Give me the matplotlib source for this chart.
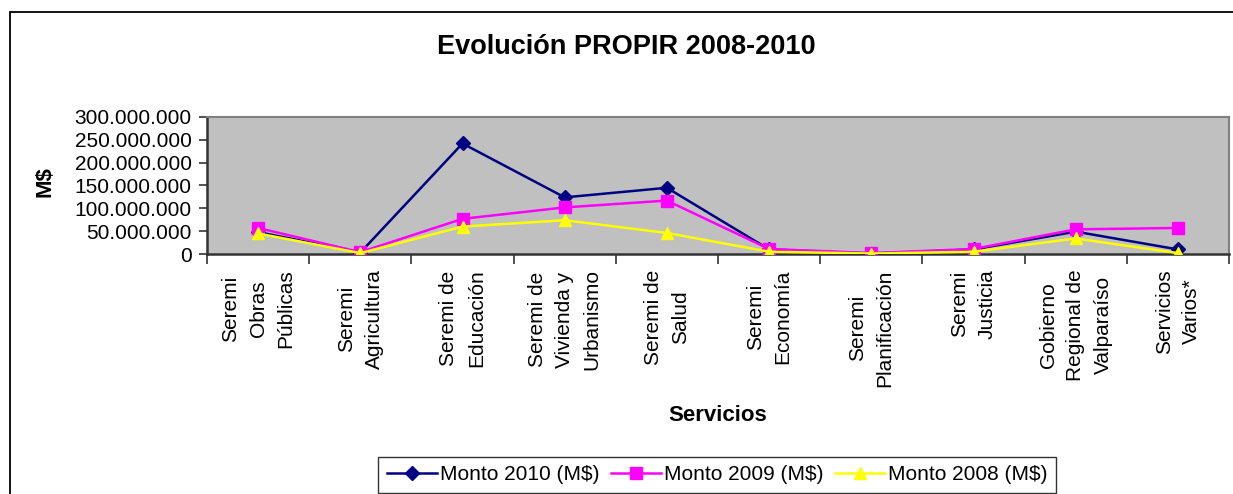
import matplotlib
matplotlib.use("Agg")
import matplotlib.pyplot as plt
from matplotlib.patches import Rectangle
from matplotlib.ticker import FuncFormatter, FixedLocator

plt.rcParams['font.family'] = ['Liberation Sans', 'DejaVu Sans']

categories = ["Seremi\nObras\nPúblicas", "Seremi\nAgricultura", "Seremi de\nEducación",
              "Seremi de\nVivienda y\nUrbanismo", "Seremi de\nSalud", "Seremi\nEconomía",
              "Seremi\nPlanificación", "Seremi\nJusticia", "Gobierno\nRegional de\nValparaíso",
              "Servicios\nVarios*"]
monto_2010 = [48e6, 3e6, 242e6, 124e6, 145e6, 10e6, 1e6, 10e6, 49e6, 10e6]
monto_2009 = [57e6, 4e6, 77e6, 102e6, 117e6, 11e6, 2e6, 11e6, 54e6, 57e6]
monto_2008 = [45e6, 2e6, 60e6, 74e6, 46e6, 5e6, 1e6, 5e6, 34e6, 2e6]
y_ticks = [0, 50e6, 100e6, 150e6, 200e6, 250e6, 300e6]

W, H = 1233, 494
fig = plt.figure(figsize=(W / 100, H / 100), dpi=100)
fig.patch.set_facecolor('white')

# outer chart frame
fig.add_artist(Rectangle((10 / W, -0.2), 1.2, 1 - 12 / H + 0.2, transform=fig.transFigure,
                         fill=False, edgecolor='black', linewidth=1.3))

ax = fig.add_axes([207 / W, 1 - 254 / H, (1229 - 207) / W, (254 - 117) / H])
ax.set_facecolor('#C0C0C0')

x = list(range(len(categories)))
ax.plot(x, monto_2010, color='#000080', lw=1.8, marker='D', markersize=7,
        label='Monto 2010 (M$)', zorder=3)
ax.plot(x, monto_2009, color='#FF00FF', lw=1.8, marker='s', markersize=8,
        label='Monto 2009 (M$)', zorder=4)
ax.plot(x, monto_2008, color='#FFFF00', lw=1.8, marker='^', markersize=9,
        label='Monto 2008 (M$)', zorder=5)

ax.set_xlim(-0.5, len(categories) - 0.5)
ax.set_ylim(0, 300e6)
ax.yaxis.set_major_locator(FixedLocator(y_ticks))
ax.yaxis.set_major_formatter(FuncFormatter(lambda v, p: f"{int(v):,}".replace(",", ".")))
ax.tick_params(axis='y', direction='out', length=6, width=1.2, color='#333333',
               labelsize=15, pad=5)

ax.set_xticks(x)
ax.set_xticklabels(categories, rotation=90, fontsize=15, linespacing=1.57,
                   multialignment='center')
ax.tick_params(axis='x', which='major', length=0, pad=11)
ax.set_xticks([i - 0.5 for i in range(len(categories) + 1)], minor=True)
ax.tick_params(axis='x', which='minor', direction='out', length=7, width=1.2, color='#333333')

for s in ['left', 'bottom']:
    ax.spines[s].set_color('#333333')
    ax.spines[s].set_linewidth(1.8)
for s in ['top', 'right']:
    ax.spines[s].set_color('#808080')
    ax.spines[s].set_linewidth(1.5)

fig.text(626 / W, 1 - 47 / H, 'Evolución PROPIR 2008-2010', ha='center', va='center',
         fontsize=19.5, fontweight='bold')
fig.text(718 / W, 1 - 415 / H, 'Servicios', ha='center', va='center',
         fontsize=16, fontweight='bold')
fig.text(45 / W, 1 - 182 / H, 'M$', ha='center', va='center', rotation=90,
         fontsize=16, fontweight='bold')

leg = fig.legend(loc='upper center', bbox_to_anchor=(717 / W, 1 - 457 / H), ncol=3,
                 fontsize=15, frameon=True, fancybox=False, edgecolor='black',
                 handlelength=2.4, handletextpad=0.15, columnspacing=0.55,
                 borderpad=0.4, borderaxespad=0)
leg.get_frame().set_linewidth(1.0)

fig.savefig('out.png', dpi=100)
